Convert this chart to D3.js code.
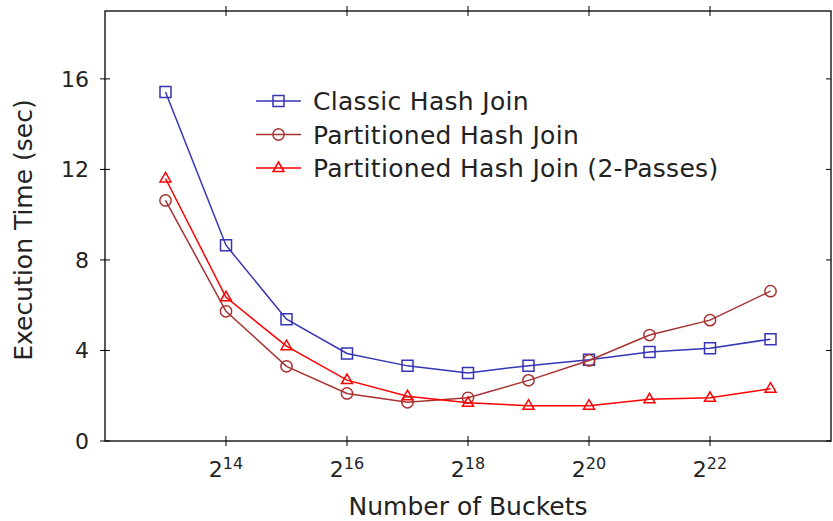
<!DOCTYPE html>
<html>
<head>
<meta charset="utf-8">
<script src="https://cdn.jsdelivr.net/npm/d3@7"></script>
<style>
  body { margin: 0; background: #fff; }
  svg { font-family: 'DejaVu Sans', sans-serif; }
</style>
</head>
<body>
<script>
// bucket counts as powers of two
const exponents = [13, 14, 15, 16, 17, 18, 19, 20, 21, 22, 23]
const classic = [15.42, 8.65, 5.38, 3.87, 3.32, 3.01, 3.33, 3.59, 3.93, 4.1, 4.5]
const partitioned = [10.63, 5.73, 3.3, 2.1, 1.71, 1.91, 2.68, 3.56, 4.68, 5.34, 6.62]
const twoPass = [11.6, 6.35, 4.19, 2.69, 1.98, 1.69, 1.56, 1.56, 1.84, 1.91, 2.31]
const xTicks = [14, 16, 18, 20, 22]
const yTicks = [0, 4, 8, 12, 16]

const series = [
  { name: 'Classic Hash Join', values: classic, color: '#3535b5', marker: 'square' },
  { name: 'Partitioned Hash Join', values: partitioned, color: '#a83232', marker: 'circle' },
  { name: 'Partitioned Hash Join (2-Passes)', values: twoPass, color: '#ff0000', marker: 'triangle' }
]

const width = 833
const height = 521
const margin = { top: 11, right: 2, bottom: 80, left: 105 }
const innerW = width - margin.left - margin.right
const innerH = height - margin.top - margin.bottom

const x = d3.scaleLinear().domain([12, 24]).range([0, innerW])
const y = d3.scaleLinear().domain([0, 19]).range([innerH, 0])

const svg = d3.select('body').append('svg')
  .attr('width', width)
  .attr('height', height)

const g = svg.append('g')
  .attr('transform', `translate(${margin.left},${margin.top})`)

// frame
g.append('rect')
  .attr('width', innerW)
  .attr('height', innerH)
  .style('fill', 'none')
  .style('stroke', '#000')
  .style('stroke-width', 1.3)

const tick = 5
// y ticks, left and mirrored right
yTicks.forEach(v => {
  g.append('line')
    .attr('x1', -tick).attr('x2', tick)
    .attr('y1', y(v)).attr('y2', y(v))
    .style('stroke', '#000')
  g.append('line')
    .attr('x1', innerW - tick).attr('x2', innerW)
    .attr('y1', y(v)).attr('y2', y(v))
    .style('stroke', '#000')
  g.append('text')
    .attr('x', -16)
    .attr('y', y(v))
    .attr('dy', '0.36em')
    .attr('text-anchor', 'end')
    .style('font-size', '22px')
    .style('fill', '#222')
    .text(v)
})

// x ticks, bottom and mirrored top
xTicks.forEach(v => {
  g.append('line')
    .attr('x1', x(v)).attr('x2', x(v))
    .attr('y1', innerH - tick).attr('y2', innerH + tick)
    .style('stroke', '#000')
  g.append('line')
    .attr('x1', x(v)).attr('x2', x(v))
    .attr('y1', -tick).attr('y2', tick)
    .style('stroke', '#000')
  const t = g.append('text')
    .attr('x', x(v))
    .attr('y', innerH + 36)
    .attr('text-anchor', 'middle')
    .style('font-size', '22px')
    .style('fill', '#222')
  t.append('tspan').text('2')
  t.append('tspan')
    .attr('dy', -8)
    .style('font-size', '16px')
    .text(v)
})

// axis titles
svg.append('text')
  .attr('x', margin.left + x(18))
  .attr('y', 515)
  .attr('text-anchor', 'middle')
  .style('font-size', '25px')
  .style('fill', '#222')
  .text('Number of Buckets')

svg.append('text')
  .attr('transform', 'translate(32,230) rotate(-90)')
  .attr('text-anchor', 'middle')
  .style('font-size', '25px')
  .style('fill', '#222')
  .text('Execution Time (sec)')

const markerPath = (type) => {
  if (type === 'square') return 'M-5.5,-5.5h11v11h-11z'
  if (type === 'circle') return d3.symbol(d3.symbolCircle, 100)()
  return 'M0,-6L5.5,3.5L-5.5,3.5z'
}

const line = d3.line()
  .x((d, i) => x(exponents[i]))
  .y(d => y(d))

series.forEach(s => {
  g.append('path')
    .datum(s.values)
    .attr('d', line)
    .style('fill', 'none')
    .style('stroke', s.color)
    .style('stroke-width', 1.5)
  g.selectAll(null)
    .data(s.values)
    .enter()
    .append('path')
      .attr('transform', (d, i) => `translate(${x(exponents[i])},${y(d)})`)
      .attr('d', markerPath(s.marker))
      .style('fill', 'none')
      .style('stroke', s.color)
      .style('stroke-width', 1.5)
})

// legend
const legend = svg.append('g')
  .attr('transform', 'translate(256,101)')
series.forEach((s, i) => {
  const row = legend.append('g')
    .attr('transform', `translate(0,${i * 33.5})`)
  row.append('line')
    .attr('x1', 0).attr('x2', 45)
    .style('stroke', s.color)
    .style('stroke-width', 1.5)
  row.append('path')
    .attr('transform', 'translate(22.5,0)')
    .attr('d', markerPath(s.marker))
    .style('fill', 'none')
    .style('stroke', s.color)
    .style('stroke-width', 1.5)
  row.append('text')
    .attr('x', 57)
    .attr('dy', '0.36em')
    .style('font-size', '25px')
    .style('letter-spacing', '0.3px')
    .style('fill', '#222')
    .text(s.name)
})
</script>
</body>
</html>
